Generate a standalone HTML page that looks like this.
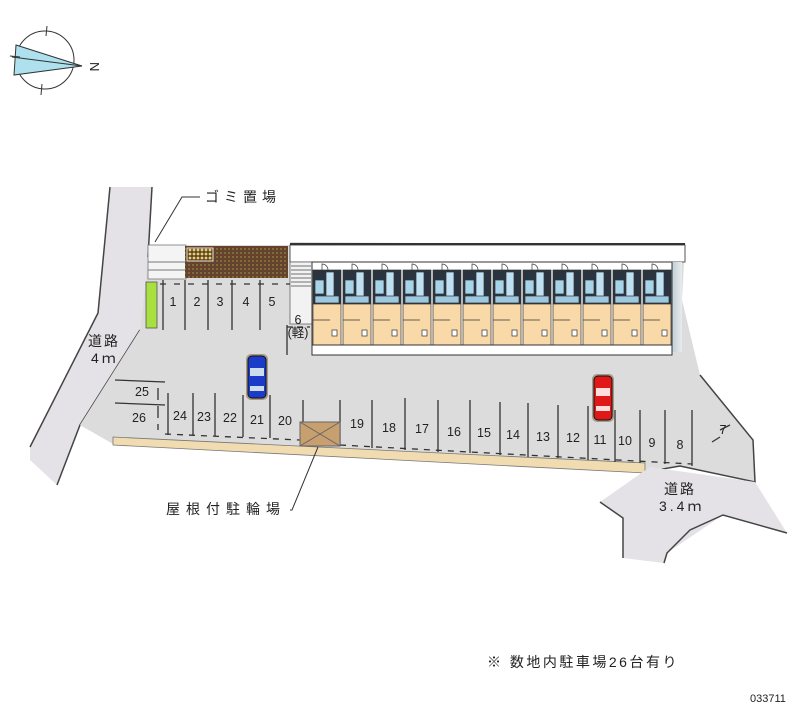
<!DOCTYPE html>
<html><head><meta charset="utf-8"><style>
html,body{margin:0;padding:0;background:#fff;}
svg{display:block;}
text{font-family:"Liberation Sans","Noto Sans CJK JP",sans-serif;fill:#222;}
</style></head><body>
<svg width="800" height="727" viewBox="0 0 800 727" xmlns="http://www.w3.org/2000/svg">
<defs>
<pattern id="br" width="4" height="4" patternUnits="userSpaceOnUse">
<rect width="4" height="4" fill="#5e4526"/><circle cx="1" cy="1" r="0.9" fill="#a08050"/><circle cx="3" cy="3" r="0.8" fill="#7a3848"/>
</pattern>
<pattern id="yl" width="4" height="4" patternUnits="userSpaceOnUse">
<rect width="4" height="4" fill="#5e4526"/><circle cx="2" cy="2" r="1.4" fill="#e8d070"/>
</pattern>
<linearGradient id="gr" x1="0" x2="1"><stop offset="0" stop-color="#b8c8d0"/><stop offset="1" stop-color="#e8ecee"/></linearGradient>
</defs>

<!-- compass -->
<g stroke="#333" stroke-width="1" fill="none">
<circle cx="45" cy="60" r="29"/>
<polygon points="16,45 82,66 14,75" fill="#aee0ee" stroke="#333"/>
<line x1="12" y1="57" x2="82" y2="66"/>
<line x1="47" y1="26" x2="46" y2="36"/><line x1="42" y1="84" x2="41" y2="95"/><line x1="10" y1="56" x2="20" y2="57"/>
</g>
<text x="89" y="71" font-size="13" transform="rotate(90 94 67)">N</text>

<!-- left road -->
<polygon points="110,187 152,187 148,257 140,330 80,425 57,485 30,460 30,447 98,313" fill="#e4e2e6"/>
<polyline points="110,187 98,313 30,447" fill="none" stroke="#444" stroke-width="1.5"/>
<polyline points="152,187 148,257" fill="none" stroke="#444" stroke-width="1.5"/>
<polyline points="140,330 80,425 57,485" fill="none" stroke="#444" stroke-width="1.5"/>
<text x="88" y="346" font-size="14" letter-spacing="2">道路</text>
<text x="91" y="363" font-size="14" letter-spacing="3">4ｍ</text>

<!-- lot -->
<polygon points="148,245 290,245 290,242 685,245 682,300 700,375 753,440 755,482 680,466 645,470 113,444 80,425 140,330 148,257" fill="#dcdcdc"/>
<polyline points="700,375 753,440 755,482 680,466 645,472" fill="none" stroke="#444" stroke-width="1.5"/>
<rect x="290" y="245" width="395" height="17" fill="#fff" stroke="#555" stroke-width="1"/>
<line x1="290" y1="244" x2="685" y2="244" stroke="#333" stroke-width="2"/>
<rect x="148" y="245" width="38" height="34" fill="#f4f4f4" stroke="#777" stroke-width="0.8"/>
<line x1="148" y1="262" x2="186" y2="262" stroke="#777"/><line x1="148" y1="270" x2="186" y2="270" stroke="#777"/>
<rect x="185" y="246" width="103" height="32" fill="url(#br)"/>
<rect x="187" y="248" width="26" height="13" fill="url(#yl)" stroke="#fff" stroke-width="0.8"/>
<!-- stairs -->
<rect x="290" y="262" width="22" height="62" fill="#f2f2f2" stroke="#666" stroke-width="0.8"/>
<g stroke="#444" stroke-width="0.8">
<line x1="291" y1="266" x2="311" y2="266"/><line x1="291" y1="270" x2="311" y2="270"/><line x1="291" y1="274" x2="311" y2="274"/><line x1="291" y1="278" x2="311" y2="278"/><line x1="291" y1="282" x2="311" y2="282"/><line x1="291" y1="286" x2="311" y2="286"/>
</g>
<!-- building -->
<rect x="670" y="262" width="12" height="90" fill="url(#gr)"/>
<rect x="312" y="262" width="360" height="93" fill="#fff" stroke="#333" stroke-width="1"/>
<g stroke="#333" stroke-width="0.7">
<g id="u">
<rect x="313" y="270" width="28" height="34" fill="#2a3440"/>
<rect x="326" y="272" width="8" height="28" fill="#bfe0f2"/>
<rect x="315" y="280" width="9" height="14" fill="#a8d4ea"/>
<rect x="315" y="296" width="24" height="7" fill="#9cc8e0"/>
<rect x="313" y="304" width="28" height="41" fill="#fad9a8"/>
<line x1="313" y1="320" x2="330" y2="320"/>
<rect x="332" y="330" width="5" height="6" fill="#fff"/>
<path d="M322 270 v-6 a6 6 0 0 1 6 6" fill="none"/>
</g>
<use href="#u" x="30"/><use href="#u" x="60"/><use href="#u" x="90"/><use href="#u" x="120"/><use href="#u" x="150"/><use href="#u" x="180"/><use href="#u" x="210"/><use href="#u" x="240"/><use href="#u" x="270"/><use href="#u" x="300"/><use href="#u" x="330"/>
</g>
<line x1="312" y1="345" x2="672" y2="345" stroke="#333"/>
<rect x="146" y="282" width="11" height="46" fill="#a8e040" stroke="#555" stroke-width="0.8"/>

<!-- tan strip -->
<polygon points="113,437 645,463 645,473 113,445" fill="#f0dcb0" stroke="#777" stroke-width="0.8"/>

<g stroke="#333" stroke-width="1.3">
<line x1="160" y1="284" x2="290" y2="284" stroke-dasharray="6,8"/>
<line x1="163" y1="280" x2="163" y2="330"/><line x1="185" y1="280" x2="185" y2="330"/><line x1="208" y1="280" x2="208" y2="330"/><line x1="232" y1="280" x2="232" y2="330"/><line x1="260" y1="280" x2="260" y2="330"/>
<line x1="287" y1="325" x2="287" y2="355"/><line x1="287" y1="327" x2="310" y2="327" stroke-dasharray="6,4"/>
<line x1="115" y1="380" x2="165" y2="382"/><line x1="115" y1="403" x2="165" y2="405"/>
<line x1="158" y1="388" x2="158" y2="430" stroke-dasharray="12,6"/>
<line x1="168" y1="393" x2="168" y2="435"/><line x1="193" y1="393" x2="193" y2="435"/><line x1="215" y1="393" x2="215" y2="436"/><line x1="243" y1="395" x2="243" y2="437"/><line x1="270" y1="395" x2="270" y2="438"/>
<line x1="303" y1="400" x2="303" y2="426"/><line x1="340" y1="400" x2="340" y2="446"/><line x1="372" y1="400" x2="372" y2="448"/><line x1="405" y1="398" x2="405" y2="450"/><line x1="438" y1="400" x2="438" y2="452"/><line x1="470" y1="400" x2="470" y2="453"/><line x1="500" y1="402" x2="500" y2="455"/><line x1="528" y1="403" x2="528" y2="457"/><line x1="558" y1="405" x2="558" y2="458"/><line x1="588" y1="406" x2="588" y2="460"/><line x1="615" y1="410" x2="615" y2="462"/><line x1="640" y1="410" x2="640" y2="463"/><line x1="665" y1="410" x2="665" y2="464"/><line x1="692" y1="410" x2="692" y2="466"/>
<line x1="165" y1="434" x2="300" y2="440" stroke-dasharray="6,6"/>
<line x1="340" y1="445" x2="692" y2="464" stroke-dasharray="6,6"/>
<line x1="720" y1="430" x2="730" y2="425"/><line x1="712" y1="442" x2="720" y2="437"/>
</g>
<g font-size="12.5" text-anchor="middle">
<text x="173" y="306">1</text><text x="197" y="306">2</text><text x="220" y="306">3</text><text x="246" y="306">4</text><text x="272" y="306">5</text>
<text x="298" y="324">6</text><text x="298" y="337">(軽)</text>
<text x="142" y="396">25</text><text x="139" y="422">26</text>
<text x="180" y="420">24</text><text x="204" y="421">23</text><text x="230" y="422">22</text><text x="257" y="424">21</text><text x="285" y="425">20</text>
<text x="357" y="428">19</text><text x="389" y="432">18</text><text x="422" y="433">17</text><text x="454" y="436">16</text><text x="484" y="437">15</text><text x="513" y="439">14</text><text x="543" y="441">13</text><text x="573" y="442">12</text><text x="600" y="444">11</text><text x="625" y="445">10</text><text x="652" y="447">9</text><text x="680" y="449">8</text><text x="723" y="434">7</text>
</g>

<rect x="300" y="422" width="40" height="24" fill="#c8a070" stroke="#666"/>
<line x1="300" y1="422" x2="340" y2="446" stroke="#666"/><line x1="340" y1="422" x2="300" y2="446" stroke="#666"/>

<rect x="246" y="354" width="22" height="46" rx="5" fill="#a89888"/>
<rect x="248" y="356" width="18" height="42" rx="4" fill="#1a3cc8" stroke="#111"/>
<rect x="250" y="368" width="14" height="8" fill="#cde"/><rect x="250" y="386" width="14" height="5" fill="#cde"/>
<rect x="592" y="374" width="22" height="48" rx="5" fill="#a89888"/>
<rect x="594" y="376" width="18" height="44" rx="4" fill="#e01818" stroke="#111"/>
<rect x="596" y="388" width="14" height="8" fill="#fdd"/><rect x="596" y="406" width="14" height="5" fill="#fdd"/>

<polygon points="600,502 650,467 755,482 787,533 723,515 667,553 664,563 623,558 623,518" fill="#e4e2e6"/>
<polyline points="600,502 623,518 623,558" fill="none" stroke="#444" stroke-width="1.5"/>
<polyline points="664,563 667,553 690,530 723,515 787,533" fill="none" stroke="#444" stroke-width="1.5"/>
<text x="664" y="494" font-size="14" letter-spacing="2">道路</text>
<text x="659" y="511" font-size="14" letter-spacing="3">3.4ｍ</text>

<polyline points="200,197 182,197 155,242" fill="none" stroke="#333" stroke-width="1"/>
<text x="205" y="202" font-size="14" letter-spacing="5">ゴミ置場</text>
<polyline points="290,510 292,510 318,447" fill="none" stroke="#333" stroke-width="1"/>
<text x="166" y="514" font-size="14" letter-spacing="6">屋根付駐輪場</text>
<text x="487" y="667" font-size="14" letter-spacing="2.5">※ 数地内駐車場26台有り</text>
<text x="750" y="702" font-size="11">033711</text>
</svg>
</body></html>
